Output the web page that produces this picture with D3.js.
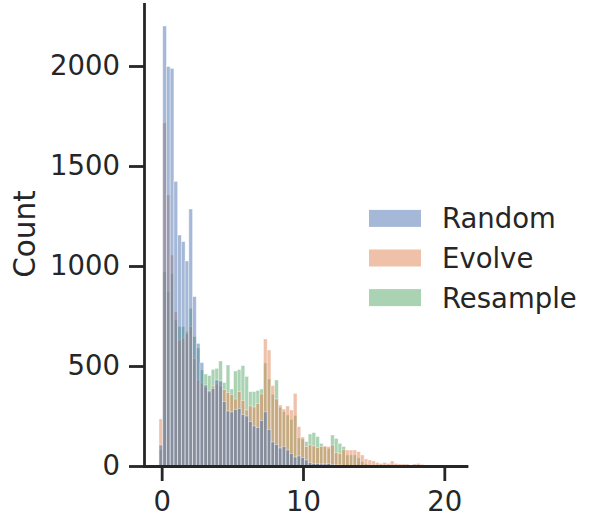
<!DOCTYPE html>
<html><head><meta charset="utf-8">
<script src="https://cdn.jsdelivr.net/npm/d3@7"></script>
<style>
body{margin:0;background:#fff;}
text{font-family:"DejaVu Sans",sans-serif;fill:#262626;}
</style>
</head><body>
<svg id="chart" width="598" height="517"></svg>
<script>
// ---- data ----
const seriesNames = ["Random", "Evolve", "Resample"];
const seriesColors = ["#4c72b0", "#dd8452", "#55a868"];
const binStart = -0.19;
const binWidth = 0.264;
const randomCounts = [105,2200,1997,1988,1423,1155,1122,1025,1285,847,
  613,517,405,375,388,430,425,322,275,270,
  283,288,258,250,222,200,193,228,271,183,
  120,108,90,98,80,62,45,50,42,30,
  17,13,13,10,10,13,8,5,5,3,
  2,2,1,0,0,0,0,0,0,0,
  0,0,0,0,0,0,0,0,0,0,0];
const evolveCounts = [235,1716,1355,1055,771,630,640,663,697,538,
  430,415,395,370,400,410,400,383,367,358,
  335,372,328,280,300,295,312,360,635,580,
  402,335,305,285,300,280,363,197,145,97,
  105,100,92,97,100,97,105,67,63,83,
  80,80,80,72,55,35,30,25,18,13,
  18,13,25,13,10,10,10,0,10,13,8];
const resampleCounts = [80,970,872,963,730,697,697,672,788,647,
  590,480,460,452,483,488,525,417,505,385,
  475,482,502,448,372,372,378,385,515,435,
  358,430,293,272,255,233,253,140,135,122,
  160,167,147,113,95,88,155,138,113,97,
  55,55,55,40,22,10,5,3,0,0,
  0,0,0,0,0,0,0,0,0,0,0];
const xTicks = [0, 10, 20];
const yTicks = [0, 500, 1000, 1500, 2000];
const yLabel = "Count";

const seriesData = [randomCounts, evolveCounts, resampleCounts];

// ---- layout ----
const svg = d3.select("#chart");
const x = d3.scaleLinear().domain([-1.25, 21.57]).range([144, 466.5]);
const y = d3.scaleLinear().domain([0, 2310]).range([466, 4]);
const ink = "#262626";

// bars: last hue drawn first so the first hue is on top
const barsG = svg.append("g");
for (let s = seriesNames.length - 1; s >= 0; s--) {
  barsG.append("g")
    .selectAll("rect")
    .data(seriesData[s].map((v, i) => ({i, v})).filter(d => d.v > 0))
    .join("rect")
    .attr("x", d => x(binStart + d.i * binWidth))
    .attr("width", d => x(binStart + (d.i + 1) * binWidth) - x(binStart + d.i * binWidth))
    .attr("y", d => y(d.v))
    .attr("height", d => y(0) - y(d.v))
    .attr("fill", seriesColors[s])
    .attr("fill-opacity", 0.5)
    .attr("stroke", "#ffffff")
    .attr("stroke-opacity", 0.5)
    .attr("stroke-width", 0.8);
}

// axes
const yAxis = svg.append("g").attr("transform", "translate(144,0)")
  .call(d3.axisLeft(y).tickValues(yTicks).tickFormat(d3.format("d")).tickSize(15).tickSizeOuter(0).tickPadding(9));
const xAxis = svg.append("g").attr("transform", "translate(0,466)")
  .call(d3.axisBottom(x).tickValues(xTicks).tickFormat(d3.format("d")).tickSize(15).tickSizeOuter(0).tickPadding(10));
[yAxis, xAxis].forEach(g => {
  g.select(".domain").attr("stroke", ink).attr("stroke-width", 2.8).attr("stroke-linecap", "square");
  g.selectAll(".tick line").attr("stroke", ink).attr("stroke-width", 2.8);
  g.selectAll(".tick text").attr("font-size", "27.5px").attr("fill", ink)
    .style("font-family", "'DejaVu Sans', sans-serif");
});

// y label
svg.append("text")
  .attr("transform", "translate(35,234) rotate(-90)")
  .attr("text-anchor", "middle")
  .attr("font-size", "29.5px")
  .text(yLabel);

// legend
const legend = svg.append("g");
seriesNames.forEach((name, i) => {
  const cy = 218.4 + i * 39.6;
  legend.append("rect")
    .attr("x", 369).attr("y", cy - 8.5)
    .attr("width", 52).attr("height", 17)
    .attr("fill", seriesColors[i]).attr("fill-opacity", 0.5);
  legend.append("text")
    .attr("x", 442).attr("y", cy + 10)
    .attr("font-size", "27.5px")
    .text(name);
});
</script>
</body></html>
